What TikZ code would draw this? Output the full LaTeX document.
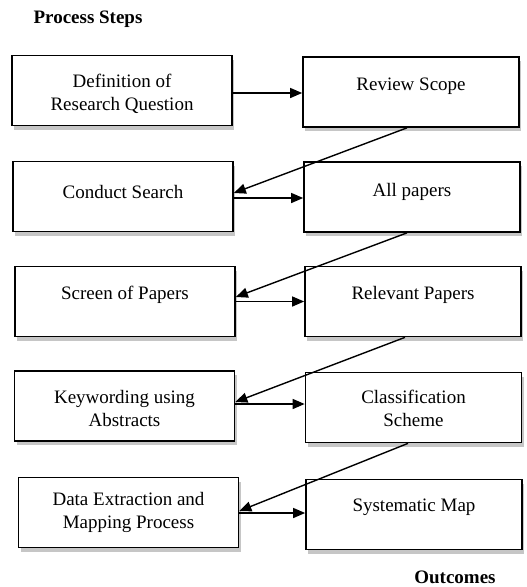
\documentclass[tikz,border=0pt]{standalone}
\usepackage{fontspec}
\setmainfont{Liberation Serif}
\usetikzlibrary{arrows.meta,shadows}
\begin{document}
\begin{tikzpicture}[x=1pt,y=-1pt,
  boxbase/.style={draw, line width=1.7pt, minimum height=70pt, inner sep=0pt, fill=white,
    drop shadow={shadow xshift=2pt, shadow yshift=-4pt, opacity=0.45, fill=gray}},
  lbox/.style={boxbase, minimum width=220pt},
  rbox/.style={boxbase, minimum width=216pt},
  lbl/.style={font=\fontsize{19}{23}\selectfont, align=center, inner sep=0pt},
  arr/.style={line width=1.4pt, -{Triangle[length=12pt,width=10pt]}},
  ttl/.style={font=\fontsize{19}{23}\selectfont\bfseries, inner sep=0pt}]
\useasboundingbox (0,0) rectangle (527,587);
% titles
\node[ttl] (ps) at (88,19) {Process Steps};
\node[ttl] (oc) at (455,577) {Outcomes};
% left boxes
\node[lbox] (L1) at (122,90.5) {};
\node[lbox] (L2) at (123,196.5) {};
\node[lbox] (L3) at (125,301.5) {};
\node[lbox] (L4) at (124.5,406) {};
\node[lbox] (L5) at (128.5,512.5) {};
% right boxes
\node[rbox] (R1) at (411,92) {};
\node[rbox] (R2) at (412,197) {};
\node[rbox] (R3) at (413,301.5) {};
\node[rbox] (R4) at (413.5,407.5) {};
\node[rbox] (R5) at (414,514.5) {};
% texts
\node[lbl] (tL1) at (122,94) {Definition of\\Research Question};
\node[lbl] (tL2) at (123,192) {Conduct Search};
\node[lbl] (tL3) at (125,295) {Screen of Papers};
\node[lbl] (tL4) at (124.5,408) {Keywording using\\Abstracts};
\node[lbl] (tL5) at (128.5,512) {Data Extraction and\\Mapping Process};
\node[lbl] (tR1) at (411,86) {Review Scope};
\node[lbl] (tR2) at (412,192) {All papers};
\node[lbl] (tR3) at (413,295) {Relevant Papers};
\node[lbl] (tR4) at (413.5,408) {Classification\\Scheme};
\node[lbl] (tR5) at (414,507) {Systematic Map};
% horizontal arrows
\draw[arr] ([yshift=-2.5pt]L1.east) -- ([yshift=-2.5pt]L1.east -| R1.west);
\draw[arr] ([yshift=-1.5pt]L2.east) -- ([yshift=-1.5pt]L2.east -| R2.west);
\draw[arr] (L3.east) -- (L3.east -| R3.west);
\draw[arr] ([yshift=2pt]L4.east) -- ([yshift=2pt]L4.east -| R4.west);
\draw[arr] ([yshift=-0.5pt]L5.east) -- ([yshift=-0.5pt]L5.east -| R5.west);
% diagonal arrows
\draw[arr] ([xshift=-4pt]R1.south) -- ([yshift=3.5pt]L2.east);
\draw[arr] ([xshift=-5pt]R2.south) -- ([yshift=4.5pt]L3.east);
\draw[arr] ([xshift=-8pt]R3.south) -- ([yshift=4pt]L4.east);
\draw[arr] ([xshift=-5.5pt]R4.south) -- ([yshift=1.5pt]L5.east);
\end{tikzpicture}
\end{document}
